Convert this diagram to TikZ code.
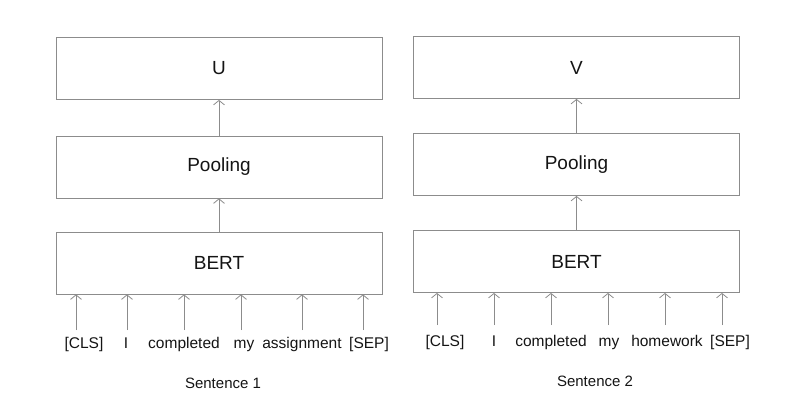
\documentclass[tikz,border=0pt]{standalone}
\usepackage{fontspec}
\setmainfont{Liberation Sans}
\usetikzlibrary{arrows.meta}
\definecolor{linegray}{RGB}{140,140,140}
\definecolor{textgray}{RGB}{20,20,20}
\tikzset{
	layer/.style={draw=linegray, line width=0.8pt, minimum width=326pt, minimum height=62pt, text=textgray, font=\fontsize{19}{21}\selectfont},
	token/.style={text=textgray, font=\fontsize{15.5}{18}\selectfont, inner sep=0pt, anchor=base},
	sentence/.style={text=textgray, font=\fontsize{15}{18}\selectfont, inner sep=0pt},
	uparrow/.style={draw=linegray, line width=0.8pt, -{Straight Barb[length=4.5pt,width=11pt]}}
}
\begin{document}
\begin{tikzpicture}[x=1pt, y=-1pt]
	\useasboundingbox (0,0) rectangle (786,407);
	% sentence 1
	\node (U) at (219,68.5) [layer] {U};
	\node (Pool1) at (219,167) [layer] {Pooling};
	\node (Bert1) at (219,263) [layer] {BERT};
	\draw[uparrow] (Pool1.north) -- (U.south);
	\draw[uparrow] (Bert1.north) -- (Pool1.south);
	\node (s1t1) at (84,348) [token] {[CLS]};
	\node (s1t2) at (126,348) [token] {I};
	\node (s1t3) at (184,348) [token] {completed};
	\node (s1t4) at (244,348) [token] {my};
	\node (s1t5) at (302,348) [token] {assignment};
	\node (s1t6) at (369,348) [token] {[SEP]};
	\coordinate (s1a1) at (76,330);
	\coordinate (s1a2) at (127,330);
	\coordinate (s1a3) at (184,330);
	\coordinate (s1a4) at (241,330);
	\coordinate (s1a5) at (302,330);
	\coordinate (s1a6) at (363,330);
	\draw[uparrow] (s1a1) -- (s1a1 |- Bert1.south);
	\draw[uparrow] (s1a2) -- (s1a2 |- Bert1.south);
	\draw[uparrow] (s1a3) -- (s1a3 |- Bert1.south);
	\draw[uparrow] (s1a4) -- (s1a4 |- Bert1.south);
	\draw[uparrow] (s1a5) -- (s1a5 |- Bert1.south);
	\draw[uparrow] (s1a6) -- (s1a6 |- Bert1.south);
	\node (Sent1) at (223,383) [sentence] {Sentence 1};
	% sentence 2
	\node (V) at (576.5,67.5) [layer] {V};
	\node (Pool2) at (576.5,164.5) [layer] {Pooling};
	\node (Bert2) at (576.5,261.5) [layer] {BERT};
	\draw[uparrow] (Pool2.north) -- (V.south);
	\draw[uparrow] (Bert2.north) -- (Pool2.south);
	\node (s2t1) at (445,346) [token] {[CLS]};
	\node (s2t2) at (494,346) [token] {I};
	\node (s2t3) at (551,346) [token] {completed};
	\node (s2t4) at (609,346) [token] {my};
	\node (s2t5) at (667,346) [token] {homework};
	\node (s2t6) at (730,346) [token] {[SEP]};
	\coordinate (s2a1) at (437,325);
	\coordinate (s2a2) at (494,325);
	\coordinate (s2a3) at (551,325);
	\coordinate (s2a4) at (608,325);
	\coordinate (s2a5) at (665,325);
	\coordinate (s2a6) at (722,325);
	\draw[uparrow] (s2a1) -- (s2a1 |- Bert2.south);
	\draw[uparrow] (s2a2) -- (s2a2 |- Bert2.south);
	\draw[uparrow] (s2a3) -- (s2a3 |- Bert2.south);
	\draw[uparrow] (s2a4) -- (s2a4 |- Bert2.south);
	\draw[uparrow] (s2a5) -- (s2a5 |- Bert2.south);
	\draw[uparrow] (s2a6) -- (s2a6 |- Bert2.south);
	\node (Sent2) at (595,381) [sentence] {Sentence 2};
\end{tikzpicture}
\end{document}
